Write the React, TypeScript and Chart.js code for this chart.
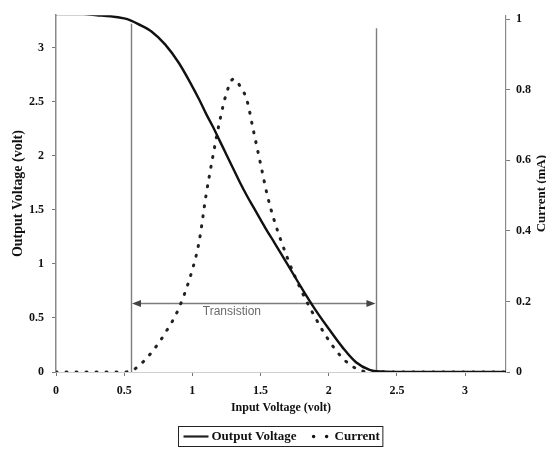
import React, { useEffect, useRef } from "react";
import { Chart, registerables } from "chart.js";

Chart.register(...registerables);

// ---- data ----
const inputVoltage = [0, 0.1, 0.2, 0.3, 0.4, 0.5, 0.55, 0.6, 0.7, 0.8, 0.9, 1.0, 1.05, 1.1, 1.15, 1.2, 1.25, 1.3, 1.35, 1.4, 1.45, 1.5, 1.55, 1.6, 1.7, 1.8, 1.9, 2.0, 2.1, 2.2, 2.3, 2.4, 2.5, 2.7, 2.9, 3.1, 3.3];
const outputVoltage = [3.31, 3.31, 3.31, 3.3, 3.29, 3.27, 3.25, 3.22, 3.15, 3.03, 2.86, 2.64, 2.52, 2.39, 2.27, 2.14, 2.01, 1.88, 1.75, 1.63, 1.52, 1.41, 1.3, 1.2, 0.99, 0.78, 0.58, 0.4, 0.23, 0.09, 0.02, 0.004, 0, 0, 0, 0, 0];
const currentMA = [0, 0, 0, 0, 0, 0, 0.003, 0.015, 0.055, 0.11, 0.18, 0.29, 0.37, 0.5, 0.61, 0.71, 0.79, 0.83, 0.81, 0.77, 0.68, 0.59, 0.5, 0.43, 0.32, 0.23, 0.155, 0.09, 0.04, 0.01, 0, 0, 0, 0, 0, 0, 0];

const seriesNames = ["Output Voltage", "Current"];
const transitionBounds = [0.55, 2.35];
const transitionLineTops = [3.22, 3.18];
const transitionArrowLevel = 0.195; // on current axis
const transitionLabel = "Transistion";
const xTitle = "Input Voltage (volt)";
const yTitle = "Output Voltage (volt)";
const y1Title = "Current (mA)";

const SERIF = "'Liberation Serif', 'Times New Roman', serif";
const SANS = "'Liberation Sans', Arial, sans-serif";

const fmt = (v: any) => String(Number(Number(v).toFixed(2)));

const overlayPlugin = {
  id: "overlay",
  beforeDatasetsDraw(chart: any) {
    const { ctx, scales } = chart;
    const x = scales.x, y = scales.y, y1 = scales.y1;
    ctx.save();
    ctx.strokeStyle = "#7d7d7d";
    ctx.lineWidth = 1.4;
    transitionBounds.forEach((v, i) => {
      const px = Math.round(x.getPixelForValue(v)) + 0.5;
      ctx.beginPath();
      ctx.moveTo(px, y.getPixelForValue(transitionLineTops[i]));
      ctx.lineTo(px, y.getPixelForValue(0));
      ctx.stroke();
    });
    const ay = Math.round(y1.getPixelForValue(transitionArrowLevel)) + 0.5;
    const xa = x.getPixelForValue(transitionBounds[0]) + 1;
    const xb = x.getPixelForValue(transitionBounds[1]) - 1;
    ctx.beginPath();
    ctx.moveTo(xa + 4, ay);
    ctx.lineTo(xb - 4, ay);
    ctx.stroke();
    ctx.fillStyle = "#444";
    ctx.beginPath();
    ctx.moveTo(xa, ay);
    ctx.lineTo(xa + 9, ay - 3.5);
    ctx.lineTo(xa + 9, ay + 3.5);
    ctx.closePath();
    ctx.fill();
    ctx.beginPath();
    ctx.moveTo(xb, ay);
    ctx.lineTo(xb - 9, ay - 3.5);
    ctx.lineTo(xb - 9, ay + 3.5);
    ctx.closePath();
    ctx.fill();
    ctx.fillStyle = "#6a6a6a";
    ctx.font = `12px ${SANS}`;
    ctx.textAlign = "center";
    ctx.textBaseline = "middle";
    ctx.fillText(transitionLabel, x.getPixelForValue(1.29), ay + 8);
    ctx.restore();
  },
  afterDraw(chart: any) {
    const { ctx, chartArea } = chart;
    ctx.save();
    // right axis title, reading bottom to top
    ctx.fillStyle = "#111";
    ctx.font = `bold 13px ${SERIF}`;
    ctx.textAlign = "center";
    ctx.textBaseline = "middle";
    ctx.translate(542, (chartArea.top + chartArea.bottom) / 2);
    ctx.rotate(-Math.PI / 2);
    ctx.fillText(y1Title, 0, 0);
    ctx.restore();

    // legend
    ctx.save();
    ctx.font = `bold 13px ${SERIF}`;
    ctx.textBaseline = "middle";
    ctx.fillStyle = "#111";
    const w1 = ctx.measureText(seriesNames[0]).width;
    const w2 = ctx.measureText(seriesNames[1]).width;
    const lineLen = 25;
    const total = 5 + lineLen + 3 + w1 + 17 + 13 + 8 + w2 + 3;
    const left = Math.round(280 - total / 2) + 0.5;
    const top = 426.5, h = 20;
    const cy = top + h / 2;
    ctx.strokeStyle = "#222";
    ctx.lineWidth = 1;
    ctx.strokeRect(left, top, total, h);
    let px = left + 5;
    ctx.lineWidth = 2.2;
    ctx.beginPath();
    ctx.moveTo(px, cy);
    ctx.lineTo(px + lineLen, cy);
    ctx.stroke();
    px += lineLen + 3;
    ctx.fillText(seriesNames[0], px, cy);
    px += w1 + 17;
    ctx.beginPath();
    ctx.arc(px, cy, 1.7, 0, Math.PI * 2);
    ctx.fill();
    ctx.beginPath();
    ctx.arc(px + 13, cy, 1.7, 0, Math.PI * 2);
    ctx.fill();
    px += 13 + 8;
    ctx.fillText(seriesNames[1], px, cy);
    ctx.restore();
  },
};

export default function App() {
  const canvasRef = useRef<HTMLCanvasElement | null>(null);

  useEffect(() => {
    document.body.style.margin = "0";
    const canvas = canvasRef.current;
    if (!canvas) return;
    const tickFont = { family: SERIF, size: 12, weight: "bold" as const };
    const chart = new Chart(canvas, {
      type: "line",
      data: {
        datasets: [
          {
            label: seriesNames[0],
            data: inputVoltage.map((v, i) => ({ x: v, y: outputVoltage[i] })),
            yAxisID: "y",
            borderColor: "#111",
            borderWidth: 2.4,
            pointRadius: 0,
            tension: 0.35,
            fill: false,
            order: 1,
          },
          {
            label: seriesNames[1],
            data: inputVoltage.map((v, i) => ({ x: v, y: currentMA[i] })),
            yAxisID: "y1",
            borderColor: "#222",
            borderWidth: 3,
            borderDash: [1, 9],
            borderCapStyle: "round",
            pointRadius: 0,
            cubicInterpolationMode: "monotone",
            fill: false,
            order: 2,
          },
        ],
      },
      options: {
        responsive: false,
        animation: false,
        layout: { padding: { top: 8, left: 0, right: 0, bottom: 0 } },
        plugins: {
          legend: { display: false },
          tooltip: { enabled: false },
        },
        scales: {
          x: {
            type: "linear",
            min: 0,
            max: 3.3,
            ticks: {
              stepSize: 0.5,
              includeBounds: false,
              font: tickFont,
              color: "#111",
              padding: 8,
              maxRotation: 0,
              callback: fmt,
            },
            grid: { drawOnChartArea: false, color: "#777", tickLength: 4 },
            border: { display: true, color: "#cfcfcf", width: 1 },
            title: {
              display: true,
              text: xTitle,
              font: { family: SERIF, size: 12, weight: "bold" },
              color: "#111",
              padding: { top: 0, bottom: 34.8 },
            },
            afterFit: (s: any) => {
              s.height = 78;
            },
          },
          y: {
            type: "linear",
            position: "left",
            min: 0,
            max: 3.3,
            ticks: {
              stepSize: 0.5,
              includeBounds: false,
              font: tickFont,
              color: "#111",
              padding: 8,
              callback: fmt,
            },
            grid: { drawOnChartArea: false, color: "#777", tickLength: 4 },
            border: { display: true, color: "#8a8a8a", width: 1.5 },
            title: {
              display: true,
              text: yTitle,
              font: { family: SERIF, size: 14, weight: "bold" },
              color: "#111",
              padding: { top: 9.6, bottom: 0 },
            },
            afterFit: (s: any) => {
              s.width = 56;
            },
          },
          y1: {
            type: "linear",
            position: "right",
            min: 0,
            max: 1.011,
            ticks: {
              stepSize: 0.2,
              includeBounds: false,
              font: tickFont,
              color: "#111",
              padding: 6,
              callback: fmt,
            },
            grid: { drawOnChartArea: false, color: "#777", tickLength: 4 },
            border: { display: true, color: "#8a8a8a", width: 1.2, dash: [3, 3] },
            afterFit: (s: any) => {
              s.width = 40;
            },
          },
        },
      },
      plugins: [overlayPlugin],
    } as any);
    return () => chart.destroy();
  }, []);

  return (
    <div style={{ position: "absolute", left: 0, top: 0, width: 546, height: 450, background: "#fff" }}>
      <canvas ref={canvasRef} width={546} height={450} />
    </div>
  );
}
